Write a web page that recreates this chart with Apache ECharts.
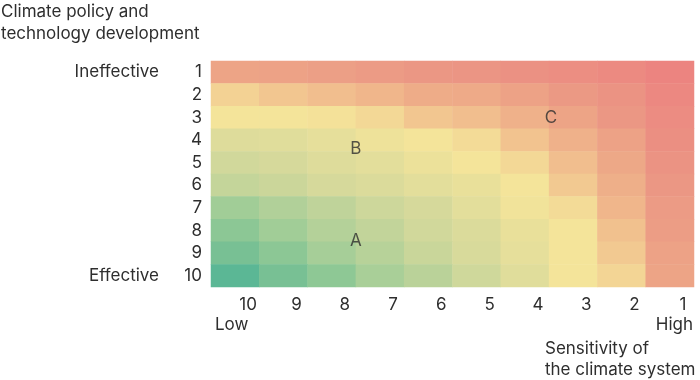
<!DOCTYPE html>
<html>
<head>
<meta charset="utf-8">
<script src="https://cdn.jsdelivr.net/npm/echarts@6/dist/echarts.min.js"></script>
<style>html,body{margin:0;padding:0;background:#fff}#c{width:700px;height:380px}</style>
</head>
<body>
<div id="c"></div>
<script>
// Sensitivity of the climate system (x, left = low)
const sensitivity = ['10','9','8','7','6','5','4','3','2','1'];
// Climate policy and technology development (y, top = ineffective)
const policy = ['1','2','3','4','5','6','7','8','9','10'];
// Risk level per cell (0 = green / low, 100 = red / high), rows = policy 1..10, cols = sensitivity 10..1
const risk1  = [84, 85, 86, 88, 90, 91, 93, 95, 97, 100];
const risk2  = [66, 70, 73, 76, 80, 81, 85, 89, 92, 98];
const risk3  = [60, 60, 61, 64, 70, 73, 78, 84, 90, 96];
const risk4  = [52, 53, 55, 58, 60, 63, 71, 78, 85, 94];
const risk5  = [47, 49, 52, 54, 57, 60, 64, 73, 82, 92];
const risk6  = [41, 44, 49, 51, 54, 56, 60, 69, 79, 90];
const risk7  = [28, 34, 39, 45, 49, 54, 59, 63, 76, 88];
const risk8  = [19, 28, 35, 40, 47, 51, 56, 60, 72, 87];
const risk9  = [10, 19, 30, 36, 43, 50, 55, 60, 69, 85];
const risk10 = [0, 10, 20, 31, 37, 46, 53, 60, 65, 84];
const riskRows = [risk1, risk2, risk3, risk4, risk5, risk6, risk7, risk8, risk9, risk10];
// Scenario markers: [sensitivity value, policy value]
const markerNames = ['A', 'B', 'C'];
const markerSens = [7.5, 7.5, 3.46];
const markerPolicy = [8.45, 4.4, 3.02];

const FONT = "Inter, 'Liberation Sans', Arial, sans-serif";
const TXT = '#2e2e2e';
const FS = 17;

const heatData = [];
riskRows.forEach((row, yi) => row.forEach((v, xi) => heatData.push([xi, yi, v])));
const markerData = markerNames.map((n, i) => ({ name: n, value: [markerSens[i], markerPolicy[i]] }));

const chart = echarts.init(document.getElementById('c'));
chart.setOption({
  animation: false,
  textStyle: { fontFamily: FONT },
  title: {
    text: 'Climate policy and\ntechnology development',
    left: 1, top: 1, padding: 0,
    textStyle: { fontFamily: FONT, fontWeight: 'normal', fontSize: FS, lineHeight: 22, color: TXT }
  },
  grid: { left: 211, right: 6, top: 61, bottom: 93 },
  xAxis: [{
    type: 'category', data: sensitivity, position: 'bottom',
    axisLine: { show: false }, axisTick: { show: false }, splitLine: { show: false },
    axisLabel: { color: TXT, fontSize: FS, fontFamily: FONT, margin: 9, padding: [0, 0, 0, 26] }
  }, {
    type: 'value', min: 0.5, max: 10.5, inverse: true, show: false
  }],
  yAxis: [{
    type: 'category', data: policy, inverse: true,
    axisLine: { show: false }, axisTick: { show: false }, splitLine: { show: false },
    axisLabel: {
      color: TXT, fontSize: FS, fontFamily: FONT, margin: 9,
      formatter: function (v) {
        if (v === '1') return '{n|Ineffective}{v|1}';
        if (v === '10') return '{n|Effective}{v|10}';
        return v;
      },
      rich: {
        n: { color: TXT, fontSize: FS, fontFamily: FONT },
        v: { color: TXT, fontSize: FS, fontFamily: FONT, width: 43, align: 'right' }
      }
    }
  }, {
    type: 'value', min: 0.5, max: 10.5, inverse: true, show: false
  }],
  visualMap: {
    show: false, min: 0, max: 100, dimension: 2, seriesIndex: 0,
    inRange: { color: ['#5bb795', '#78c094', '#8ec895', '#a6ce98', '#c2d49a', '#d8da9b', '#f4e49a', '#f2c690', '#eeac88', '#eb9784', '#ec8480'] }
  },
  series: [{
    type: 'heatmap', data: heatData, xAxisIndex: 0, yAxisIndex: 0,
    itemStyle: { borderWidth: 0 },
    emphasis: { disabled: true }, silent: true
  }, {
    type: 'scatter', data: markerData, xAxisIndex: 1, yAxisIndex: 1,
    symbolSize: 1, itemStyle: { color: 'rgba(0,0,0,0)' }, silent: true,
    label: { show: true, position: 'inside', formatter: '{b}', color: TXT, fontSize: FS, fontFamily: FONT }
  }],
  graphic: [
    { type: 'text', left: 215, top: 316, style: { text: 'Low', fill: TXT, fontSize: FS, fontFamily: FONT } },
    { type: 'text', right: 7, top: 316, style: { text: 'High', fill: TXT, fontSize: FS, fontFamily: FONT } },
    { type: 'text', left: 545, top: 338, style: { text: 'Sensitivity of\nthe climate system', fill: TXT, fontSize: FS, fontFamily: FONT, lineHeight: 21 } }
  ]
});
</script>
</body>
</html>
